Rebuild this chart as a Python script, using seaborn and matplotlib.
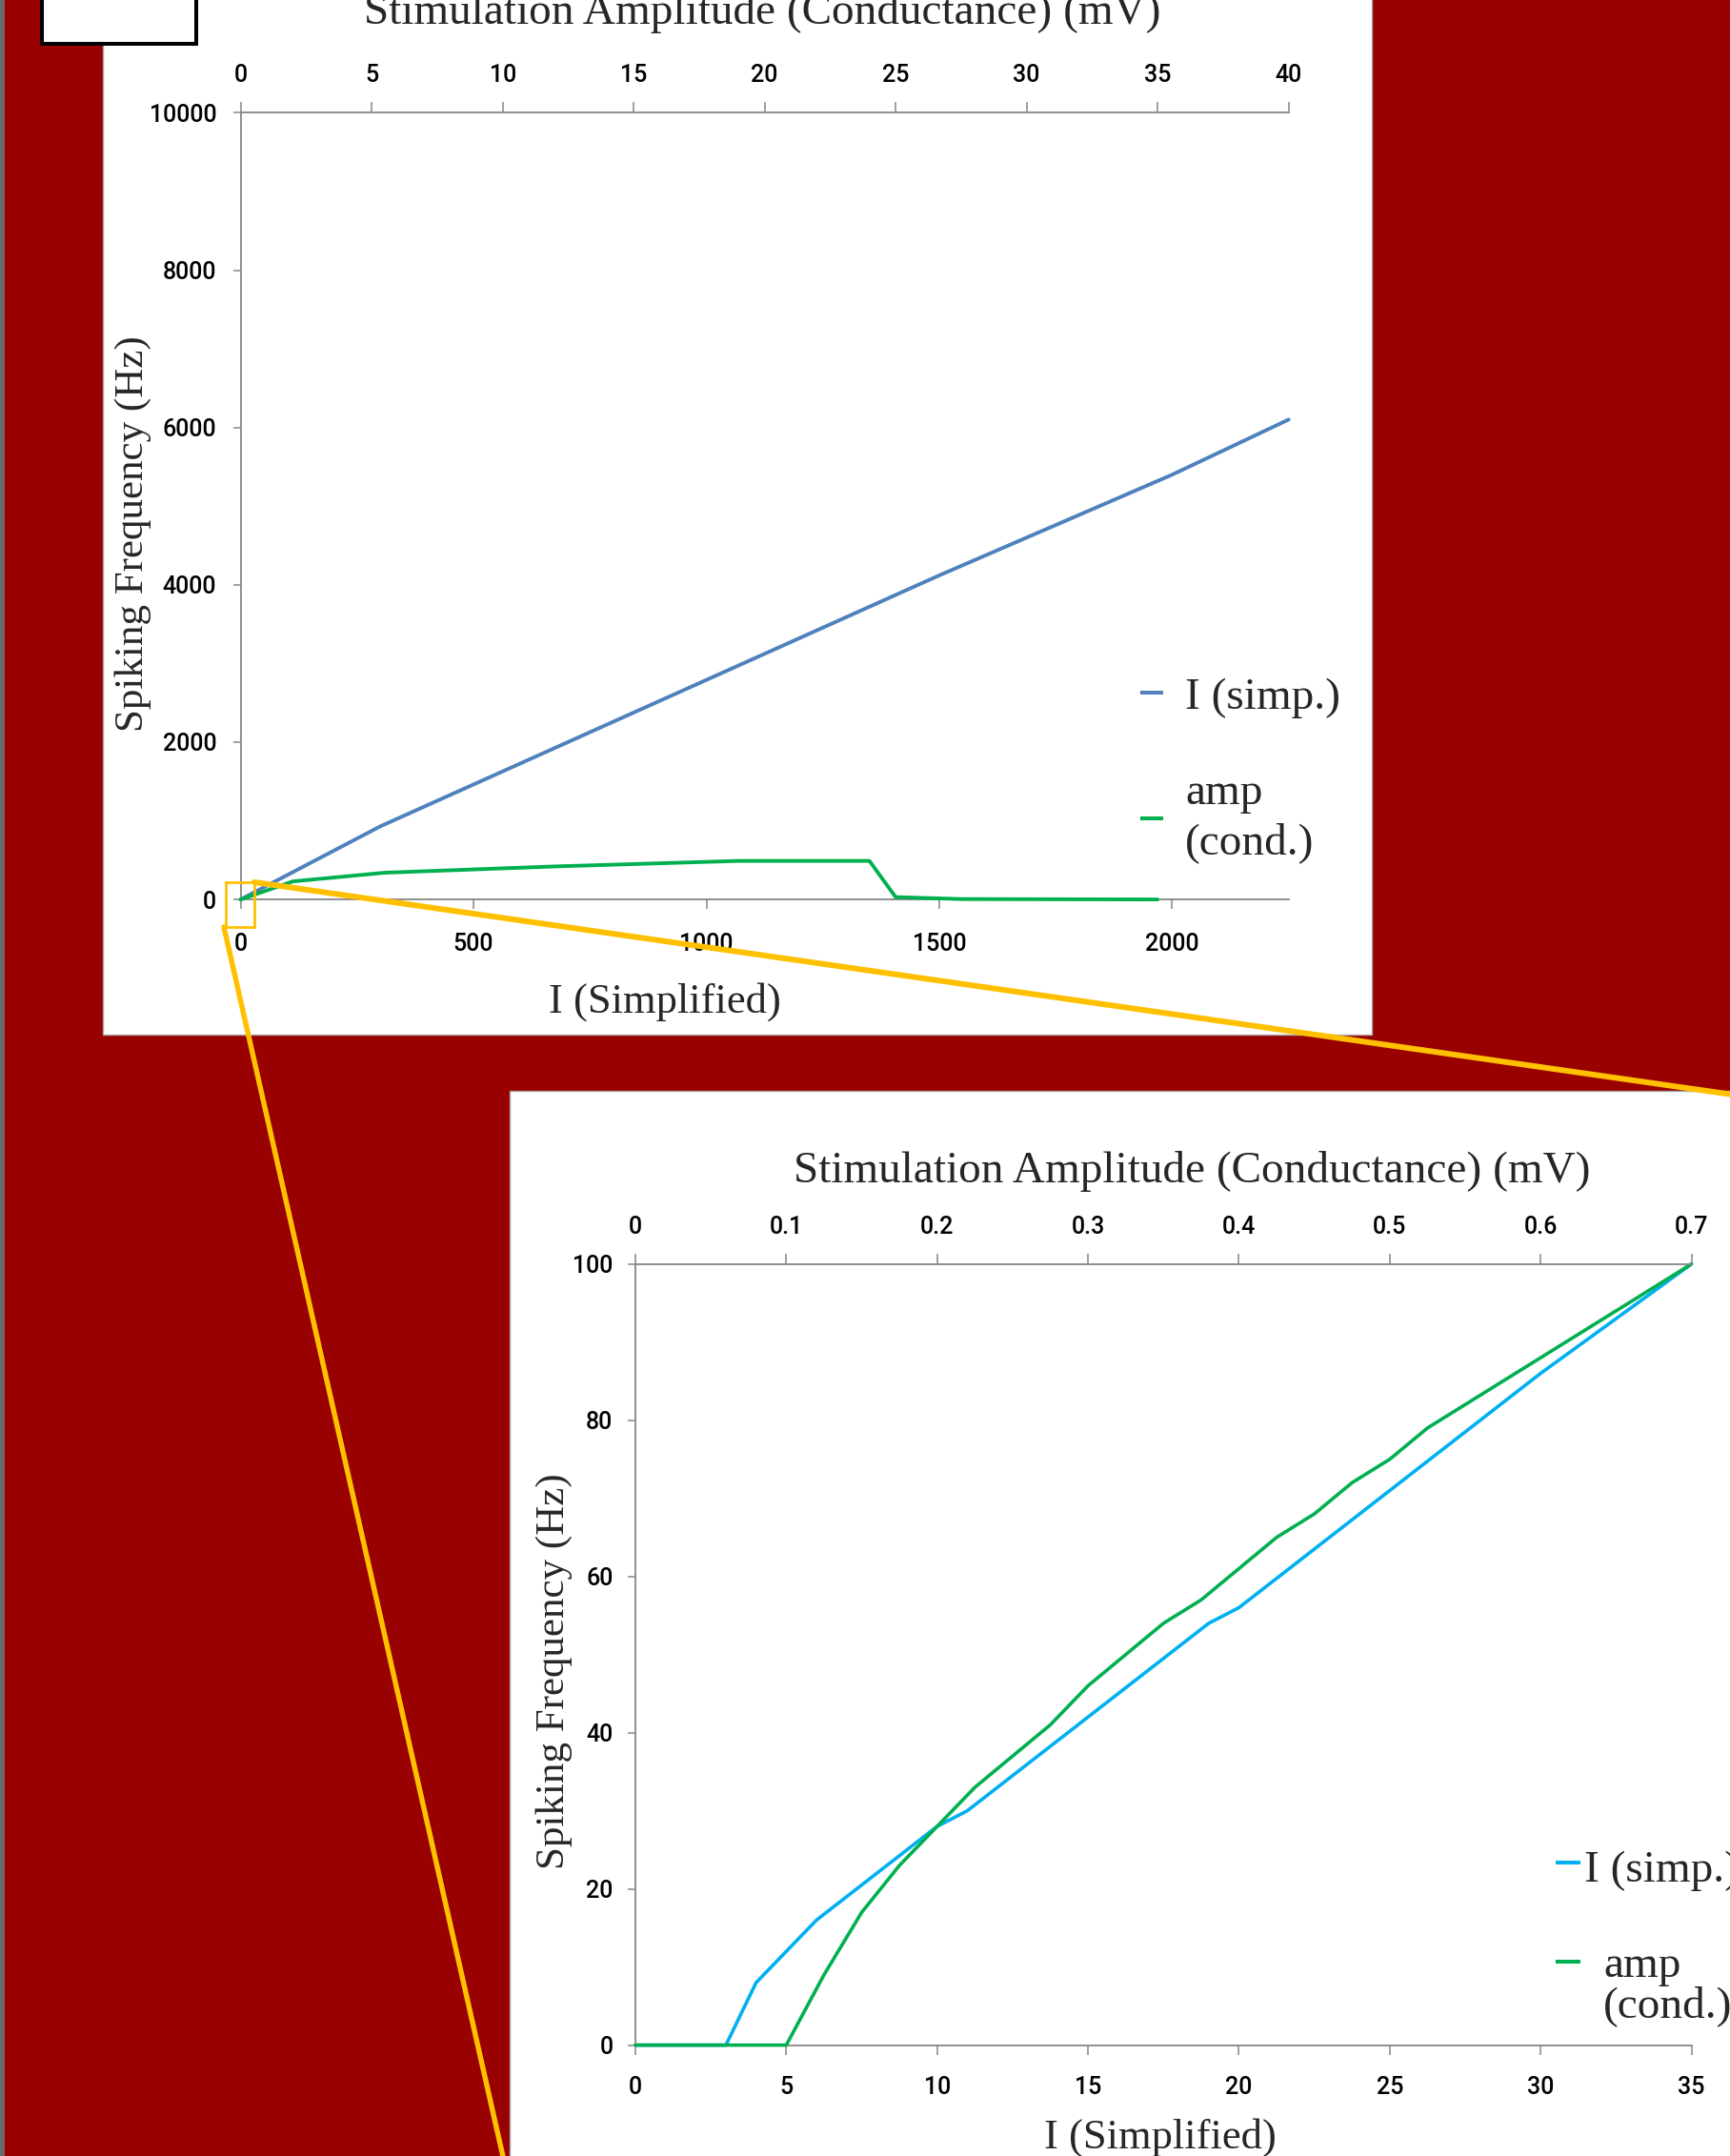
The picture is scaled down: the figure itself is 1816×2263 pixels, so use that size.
import matplotlib
matplotlib.use("Agg")
import matplotlib.pyplot as plt
import seaborn as sns
from matplotlib.patches import Rectangle
from matplotlib.lines import Line2D

# full-range chart (top)
top_i_x = [0, 300, 1500, 2000, 2250]
top_i_hz = [0, 930, 4120, 5400, 6100]
top_amp_mv = [0, 2, 5.5, 12, 19, 24, 25, 27.5, 35]
top_amp_hz = [0, 230, 340, 420, 490, 490, 30, 5, 0]
top_xticks = [0, 500, 1000, 1500, 2000]
top_x2ticks = [0, 5, 10, 15, 20, 25, 30, 35, 40]
top_yticks = [0, 2000, 4000, 6000, 8000, 10000]

# zoomed chart (bottom)
zoom_i_x = [0, 3, 4, 6, 10, 11, 12, 15, 19, 20, 30, 35]
zoom_i_hz = [0, 0, 8, 16, 28, 30, 33, 42, 54, 56, 86, 100]
zoom_amp_mv = [0, 0.1, 0.125, 0.15, 0.175, 0.2, 0.225, 0.25, 0.275, 0.3, 0.325,
               0.35, 0.375, 0.4, 0.425, 0.45, 0.475, 0.5, 0.525, 0.55, 0.575, 0.6, 0.7]
zoom_amp_hz = [0, 0, 9, 17, 23, 28, 33, 37, 41, 46, 50, 54, 57, 61, 65, 68, 72,
               75, 79, 82, 85, 88, 100]
zoom_xticks = [0, 5, 10, 15, 20, 25, 30, 35]
zoom_x2ticks = [0, 0.1, 0.2, 0.3, 0.4, 0.5, 0.6, 0.7]
zoom_x2labels = ["0", "0.1", "0.2", "0.3", "0.4", "0.5", "0.6", "0.7"]
zoom_yticks = [0, 20, 40, 60, 80, 100]

title = "Stimulation Amplitude (Conductance) (mV)"
xlab = "I (Simplified)"
ylab = "Spiking Frequency (Hz)"

sns.set_style("white")
plt.rcParams['font.family'] = ['Liberation Sans Narrow', 'Roboto', 'DejaVu Sans']
SERIF = ['Liberation Serif', 'DejaVu Serif']
GRAY = "#868686"
YEL = "#FFC000"
TICKSIZE = 18

W, H = 1816, 2263
fig = plt.figure(figsize=(W / 100, H / 100), dpi=100)
fig.patch.set_facecolor("#990000")


def fx(px):
    return px / W


def fy(py):
    return 1 - py / H


def rect(x0, y0, x1, y1, **kw):
    r = Rectangle((fx(x0), fy(y1)), fx(x1) - fx(x0), fy(y0) - fy(y1),
                  transform=fig.transFigure, **kw)
    fig.add_artist(r)


# backgrounds
rect(0, -10, 4.5, H + 10, facecolor="#6a6a6a", edgecolor="none", zorder=-5)
rect(108, -10, 1440, 1086, facecolor="white", edgecolor="#a6a6a6", lw=1, zorder=-5)
rect(535, 1145, 1840, 2290, facecolor="white", edgecolor="#a6a6a6", lw=1, zorder=-5)
rect(44, -20, 206, 45.5, facecolor="white", edgecolor="black", lw=2.9, zorder=-4)


def style(ax, ax2, xpad, x2pad, ypad):
    ax.set_facecolor("none")
    for s in ["top", "right"]:
        ax.spines[s].set_visible(False)
    for s in ["left", "bottom"]:
        ax.spines[s].set_color(GRAY)
        ax.spines[s].set_linewidth(1.3)
    for s in ["left", "right", "bottom"]:
        ax2.spines[s].set_visible(False)
    ax2.spines["top"].set_color(GRAY)
    ax2.spines["top"].set_linewidth(1.3)
    ax.tick_params(axis="x", direction="out", length=7.2, width=1.1, color=GRAY,
                   pad=xpad, labelsize=TICKSIZE, labelcolor="black", bottom=True)
    ax.tick_params(axis="y", direction="out", length=5.5, width=1.1, color=GRAY,
                   pad=ypad, labelsize=TICKSIZE, labelcolor="black", left=True)
    ax2.tick_params(axis="x", direction="out", length=7.9, width=1.1, color=GRAY,
                    pad=x2pad, labelsize=TICKSIZE, labelcolor="black", top=True,
                    bottom=False, labeltop=True, labelbottom=False)
    for a in (ax, ax2):
        a.set_xlabel("")
        a.set_ylabel("")
        for lab in a.get_xticklabels() + a.get_yticklabels():
            lab.set_fontweight("medium")
        for ln in a.lines:
            ln.set_clip_on(False)


# top chart
ax = fig.add_axes([fx(252.6), fy(944.1), fx(1352.7) - fx(252.6), fy(118.4) - fy(944.1)])
sns.lineplot(x=top_i_x, y=top_i_hz, ax=ax, color="#4F81BD", linewidth=2.8,
             estimator=None, sort=False)
ax.set_xlim(0, 2250)
ax.set_ylim(0, 10000)
ax.set_xticks(top_xticks)
ax.set_yticks(top_yticks)
ax2 = ax.twiny()
sns.lineplot(x=top_amp_mv, y=top_amp_hz, ax=ax2, color="#00B050", linewidth=2.8,
             estimator=None, sort=False)
ax2.set_xlim(0, 40)
ax2.set_ylim(0, 10000)
ax2.set_xticks(top_x2ticks)
style(ax, ax2, 18, 11.5, 12.7)

# zoomed chart
bx = fig.add_axes([fx(667), fy(2146.6), fx(1775.6) - fx(667), fy(1326.7) - fy(2146.6)])
sns.lineplot(x=zoom_i_x, y=zoom_i_hz, ax=bx, color="#00B0F0", linewidth=2.6,
             estimator=None, sort=False)
bx.set_xlim(0, 35)
bx.set_ylim(0, 100)
bx.set_xticks(zoom_xticks)
bx.set_yticks(zoom_yticks)
bx2 = bx.twiny()
sns.lineplot(x=zoom_amp_mv, y=zoom_amp_hz, ax=bx2, color="#00B050", linewidth=2.6,
             estimator=None, sort=False)
bx2.set_xlim(0, 0.7)
bx2.set_ylim(0, 100)
bx2.set_xticks(zoom_x2ticks)
bx2.set_xticklabels(zoom_x2labels)
style(bx, bx2, 16.3, 11, 11.5)

# titles and axis labels
fig.text(fx(382), fy(25), title, family=SERIF, fontsize=34, va="baseline", ha="left")
fig.text(fx(833), fy(1241), title, family=SERIF, fontsize=34, va="baseline", ha="left")
fig.text(fx(576), fy(1063), xlab, family=SERIF, fontsize=32, va="baseline", ha="left")
fig.text(fx(1096), fy(2255), xlab, family=SERIF, fontsize=32, va="baseline", ha="left")
fig.text(fx(140), fy(560), ylab, family=SERIF, fontsize=31, rotation=90,
         va="center", ha="center")
fig.text(fx(582), fy(1754), ylab, family=SERIF, fontsize=31, rotation=90,
         va="center", ha="center")


# legends
def handle(x0, x1, y, color):
    fig.add_artist(Line2D([fx(x0), fx(x1)], [fy(y), fy(y)], transform=fig.transFigure,
                          color=color, lw=2.9, solid_capstyle="butt"))


handle(1197, 1221, 727, "#4F81BD")
fig.text(fx(1244), fy(744), "I (simp.)", family=SERIF, fontsize=34, va="baseline")
handle(1197, 1221, 859, "#00B050")
fig.text(fx(1244), fy(844), "amp", family=SERIF, fontsize=34, va="baseline")
fig.text(fx(1244), fy(896), "(cond.)", family=SERIF, fontsize=34, va="baseline")

handle(1633, 1659, 1955, "#00B0F0")
fig.text(fx(1663), fy(1975), "I (simp.)", family=SERIF, fontsize=34, va="baseline")
handle(1633, 1659, 2059, "#00B050")
fig.text(fx(1683), fy(2075), "amp", family=SERIF, fontsize=34, va="baseline")
fig.text(fx(1683), fy(2117), "(cond.)", family=SERIF, fontsize=34, va="baseline")

# zoom indicator
rect(237, 926, 267, 973, facecolor="none", edgecolor=YEL, lw=2, zorder=10)
fig.add_artist(Line2D([fx(267), fx(1840)], [fy(926), fy(1152)], transform=fig.transFigure,
                      color=YEL, lw=4.3, zorder=10))
fig.add_artist(Line2D([fx(235), fx(534)], [fy(973), fy(2290)], transform=fig.transFigure,
                      color=YEL, lw=3.9, zorder=10))

fig.savefig("out.png", dpi=100, facecolor=fig.get_facecolor())
